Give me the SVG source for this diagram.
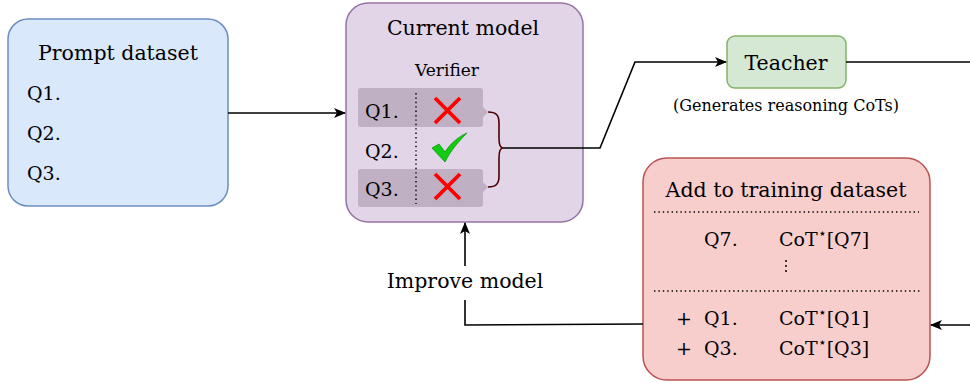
<svg xmlns="http://www.w3.org/2000/svg" width="970" height="383" viewBox="0 0 970 383">
  <style>
    .t { font-family: "DejaVu Serif", "Liberation Serif", serif; fill: #000; }
    .title { font-size: 20.5px; }
    .q { font-size: 19px; }
    .small { font-size: 16px; }
    .ver { font-size: 17px; }
    .star { font-size: 14px; }
    .edge { fill: none; stroke: #000; stroke-width: 1.6; }
    .dots { fill: none; stroke: #000; stroke-width: 1.4; stroke-dasharray: 1.4 3; }
    .row { fill: #bfb0c3; }
    .cross { fill: none; stroke: #ff0000; stroke-width: 3.8; }
  </style>
  <defs>
    <marker id="arrow" viewBox="0 0 12 10" refX="11" refY="5" markerWidth="12" markerHeight="10" markerUnits="userSpaceOnUse" orient="auto">
      <path d="M0,0 L12,5 L0,10 L3,5 Z" fill="#000"/>
    </marker>
  </defs>

  <!-- prompt dataset -->
  <g id="prompt-dataset">
    <rect x="8" y="19" width="220" height="187" rx="20" fill="#dae8fc" stroke="#6c8ebf" stroke-width="1.5"/>
    <text class="t title" x="118" y="60" text-anchor="middle">Prompt dataset</text>
    <text class="t q" x="27" y="100">Q1.</text>
    <text class="t q" x="27" y="140">Q2.</text>
    <text class="t q" x="27" y="180">Q3.</text>
  </g>

  <!-- current model with verifier -->
  <g id="current-model">
    <rect x="346" y="3" width="237" height="219" rx="22" fill="#e1d5e7" stroke="#9673a6" stroke-width="1.5"/>
    <text class="t title" x="463" y="35" text-anchor="middle">Current model</text>
    <text class="t ver" x="447" y="76" text-anchor="middle">Verifier</text>
    <path class="row" d="M361,88 H480 Q483,88 483,91 V107 L488,112 L483,117 V124 Q483,127 480,127 H361 Q358,127 358,124 V91 Q358,88 361,88 Z"/>
    <path class="row" d="M361,169 H480 Q483,169 483,172 V182 L488,187 L483,192 V204 Q483,207 480,207 H361 Q358,207 358,204 V172 Q358,169 361,169 Z"/>
    <line class="dots" x1="416" y1="93" x2="416" y2="204"/>
    <text class="t q" x="365" y="118">Q1.</text>
    <text class="t q" x="365" y="158">Q2.</text>
    <text class="t q" x="365" y="196">Q3.</text>
    <path class="cross" d="M435,98 L460,123 M460,98 L435,123"/>
    <path d="M432,148 L439,144 L445,152 C451,143 458,137 467,133 C459,141 451,150 445,162 Z" fill="#11cc11" stroke="#0a9a0a" stroke-width="0.8"/>
    <path class="cross" d="M435,174 L460,199 M460,174 L435,199"/>
  </g>

  <!-- teacher -->
  <g id="teacher">
    <rect x="727" y="36" width="119" height="52" rx="8" fill="#d5e8d4" stroke="#82b366" stroke-width="1.5"/>
    <text class="t title" x="786" y="70" text-anchor="middle" font-size="19.5">Teacher</text>
    <text class="t small" x="786" y="111" text-anchor="middle">(Generates reasoning CoTs)</text>
  </g>

  <!-- training dataset -->
  <g id="training-dataset">
    <rect x="643" y="158" width="287" height="222" rx="24" fill="#f8cecc" stroke="#b85450" stroke-width="1.5"/>
    <text class="t title" x="786" y="197" text-anchor="middle">Add to training dataset</text>
    <line class="dots" x1="654" y1="212" x2="919" y2="212"/>
    <text class="t q" x="704" y="246">Q7.</text>
    <text class="t q" x="779" y="246">CoT<tspan class="star" dy="-8">⋆</tspan><tspan dy="8">[Q7]</tspan></text>
    <circle cx="786" cy="261" r="1" fill="#000"/>
    <circle cx="786" cy="266" r="1" fill="#000"/>
    <circle cx="786" cy="271" r="1" fill="#000"/>
    <line class="dots" x1="654" y1="291" x2="920" y2="291"/>
    <text class="t q" x="676" y="325">+</text>
    <text class="t q" x="704" y="325">Q1.</text>
    <text class="t q" x="779" y="325">CoT<tspan class="star" dy="-8">⋆</tspan><tspan dy="8">[Q1]</tspan></text>
    <text class="t q" x="676" y="355">+</text>
    <text class="t q" x="704" y="355">Q3.</text>
    <text class="t q" x="779" y="355">CoT<tspan class="star" dy="-8">⋆</tspan><tspan dy="8">[Q3]</tspan></text>
  </g>

  <!-- connectors, drawn over the boxes -->
  <g id="connectors">
    <path class="edge" d="M228,113 H345" marker-end="url(#arrow)"/>
    <path d="M488,112 C496,112 499,115 499,123 V138 C499,145 500,148 503,148 C500,148 499,151 499,158 V176 C499,184 496,187 488,187" fill="none" stroke="#4c0000" stroke-width="1.6"/>
    <path class="edge" d="M503,148 H600 L635,62 H726" marker-end="url(#arrow)"/>
    <path class="edge" d="M846,62 H970"/>
    <path class="edge" d="M970,325 H931" marker-end="url(#arrow)"/>
    <path class="edge" d="M643,324 L465,325 V300"/>
    <path class="edge" d="M465,266 V223" marker-end="url(#arrow)"/>
  </g>

  <!-- edge label -->
  <g id="improve-label">
    <text class="t title" x="465" y="288" text-anchor="middle">Improve model</text>
  </g>
</svg>
